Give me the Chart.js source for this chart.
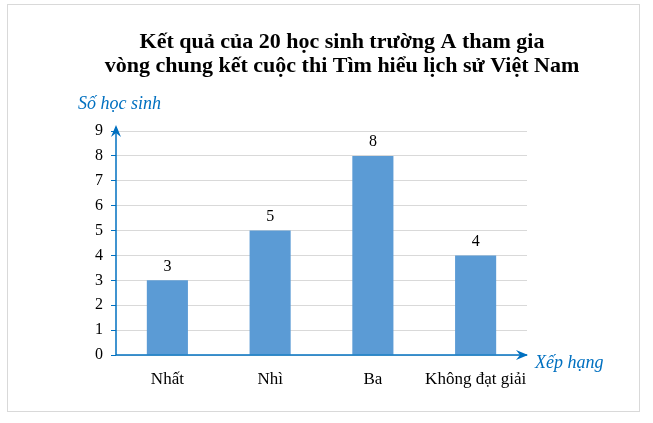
<!DOCTYPE html>
<html>
<head>
<meta charset="utf-8">
<script src="https://cdn.jsdelivr.net/npm/chart.js@4"></script>
<style>
  html, body { margin: 0; padding: 0; background: #fff; }
  #wrap { width: 653px; height: 423px; }
</style>
</head>
<body>
<div id="wrap"><canvas id="myChart" width="653" height="423"></canvas></div>
<script>
// Data
const categories = ["Nhất", "Nhì", "Ba", "Không đạt giải"];
const studentCounts = [3, 5, 8, 4];
const yTicks = [0, 1, 2, 3, 4, 5, 6, 7, 8, 9];
const titleLines = ["Kết quả của 20 học sinh trường A tham gia", "vòng chung kết cuộc thi Tìm hiểu lịch sử Việt Nam"];
const yAxisTitle = "Số học sinh";
const xAxisTitle = "Xếp hạng";

const axisBlue = "#0070C0";
const serif = "'Liberation Serif', 'Times New Roman', serif";

// Frame, title, arrows, axis names and value labels
const extras = {
  id: "extras",
  beforeDraw(chart) {
    const ctx = chart.ctx;
    ctx.save();
    ctx.fillStyle = "#fff";
    ctx.fillRect(0, 0, chart.width, chart.height);
    ctx.strokeStyle = "#d9d9d9";
    ctx.lineWidth = 1;
    ctx.strokeRect(7.5, 4.5, 632, 407);

    ctx.fillStyle = "#000";
    ctx.font = "bold 22px " + serif;
    ctx.textAlign = "center";
    ctx.textBaseline = "middle";
    ctx.fillText(titleLines[0], 342, 42);
    ctx.fillText(titleLines[1], 342, 66);
    ctx.restore();
  },
  afterDraw(chart) {
    const ctx = chart.ctx;
    const area = chart.chartArea;
    ctx.save();
    ctx.strokeStyle = axisBlue;
    ctx.fillStyle = axisBlue;
    ctx.lineWidth = 1.5;

    // y arrow
    ctx.beginPath();
    ctx.moveTo(area.left, area.bottom);
    ctx.lineTo(area.left, area.top - 4);
    ctx.stroke();
    ctx.beginPath();
    ctx.moveTo(area.left, area.top - 6);
    ctx.lineTo(area.left - 5, area.top + 6);
    ctx.lineTo(area.left, area.top + 2);
    ctx.lineTo(area.left + 5, area.top + 6);
    ctx.closePath();
    ctx.fill();

    // x arrow
    ctx.beginPath();
    ctx.moveTo(area.left, area.bottom);
    ctx.lineTo(area.right, area.bottom);
    ctx.stroke();
    ctx.beginPath();
    ctx.moveTo(area.right + 1, area.bottom);
    ctx.lineTo(area.right - 11, area.bottom - 5);
    ctx.lineTo(area.right - 7, area.bottom);
    ctx.lineTo(area.right - 11, area.bottom + 5);
    ctx.closePath();
    ctx.fill();

    // axis names
    ctx.font = "italic 18px " + serif;
    ctx.textBaseline = "middle";
    ctx.textAlign = "left";
    ctx.fillText(yAxisTitle, 78, 104);
    ctx.fillText(xAxisTitle, 535, 363);

    // value labels
    ctx.fillStyle = "#000";
    ctx.font = "16px " + serif;
    ctx.textAlign = "center";
    ctx.textBaseline = "bottom";
    const meta = chart.getDatasetMeta(0);
    meta.data.forEach((bar, i) => {
      ctx.fillText(String(studentCounts[i]), bar.x, bar.y - 6);
    });
    ctx.restore();
  }
};

new Chart("myChart", {
  type: "bar",
  data: {
    labels: categories,
    datasets: [{
      data: studentCounts,
      backgroundColor: "#5B9BD5",
      categoryPercentage: 1,
      barPercentage: 0.4
    }]
  },
  options: {
    responsive: false,
    animation: false,
    devicePixelRatio: 1,
    layout: { padding: { left: 0, right: 126, top: 131, bottom: 0 } },
    plugins: {
      legend: { display: false },
      tooltip: { enabled: false },
      title: { display: false }
    },
    scales: {
      x: {
        afterFit(scale) { scale.height = 68; },
        grid: { display: false },
        border: { display: false },
        ticks: { color: "#000", font: { family: serif, size: 17 }, padding: 6, maxRotation: 0, autoSkip: false }
      },
      y: {
        min: 0,
        max: 9,
        afterBuildTicks(scale) { scale.ticks = yTicks.map(v => ({ value: v })); },
        afterFit(scale) { scale.width = 116; },
        grid: { color: "#d9d9d9", tickColor: axisBlue, tickLength: 5, lineWidth: 1 },
        border: { display: false },
        ticks: { color: "#000", font: { family: serif, size: 16 }, padding: 8 }
      }
    }
  },
  plugins: [extras]
});
</script>
</body>
</html>
